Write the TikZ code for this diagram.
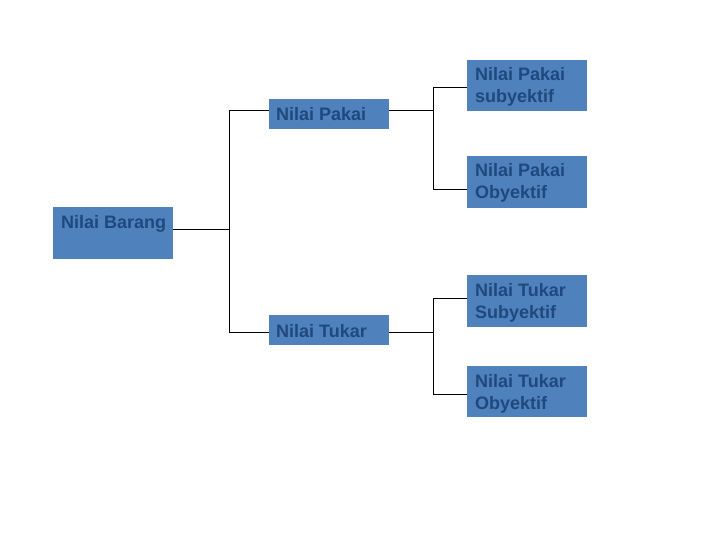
\documentclass[tikz,border=0pt]{standalone}
\usepackage{fontspec}
\setmainfont{Liberation Sans}
\begin{document}
\begin{tikzpicture}[x=1pt,y=-1pt,
  box/.style={draw=none,fill=boxblue,inner sep=0,anchor=north west},
  lbl/.style={inner sep=0,anchor=base west,text=txtblue,font=\fontsize{18}{22}\selectfont\bfseries},
  conn/.style={draw=black,line width=1pt}]
\definecolor{boxblue}{HTML}{4F81BD}
\definecolor{txtblue}{HTML}{1F497D}
\useasboundingbox (0,0) rectangle (720,540);
% boxes
\node[box,minimum width=120pt,minimum height=52pt] (B) at (53,207) {};
\node[box,minimum width=120pt,minimum height=30pt] (P) at (269,99) {};
\node[box,minimum width=120pt,minimum height=30pt] (T) at (269,315) {};
\node[box,minimum width=120pt,minimum height=51pt] (PS) at (467,60) {};
\node[box,minimum width=120pt,minimum height=52pt] (PO) at (467,156) {};
\node[box,minimum width=120pt,minimum height=52pt] (TS) at (467,275) {};
\node[box,minimum width=120pt,minimum height=51pt] (TO) at (467,366) {};
% labels
\node[lbl] (tB) at (61,229) {Nilai Barang};
\node[lbl] (tP) at (276,121) {Nilai Pakai};
\node[lbl] (tT) at (276,337) {Nilai Tukar};
\node[lbl] (tPS) at (475,81) {\vtop{\hbox{Nilai Pakai}\hbox{subyektif}}};
\node[lbl] (tPO) at (475,177) {\vtop{\hbox{Nilai Pakai}\hbox{Obyektif}}};
\node[lbl] (tTS) at (475,296) {\vtop{\hbox{Nilai Tukar}\hbox{Subyektif}}};
\node[lbl] (tTO) at (475,387) {\vtop{\hbox{Nilai Tukar}\hbox{Obyektif}}};
% junction coordinates
\coordinate (j0) at (229,230);
\coordinate (jp) at (229,111);
\coordinate (jt) at (229,332);
\coordinate (kp) at (433,111);
\coordinate (kps) at (433,88);
\coordinate (kpo) at (433,190);
\coordinate (kt) at (433,332);
\coordinate (kts) at (433,298);
\coordinate (kto) at (433,394);
% connectors
\draw[conn] (B.east|-j0) -- (j0);
\draw[conn] (P.west|-jp) -- (jp) -- (jt) -- (T.west|-jt);
\draw[conn] (P.east|-kp) -- (kp);
\draw[conn] (PS.west|-kps) -- (kps) -- (kpo) -- (PO.west|-kpo);
\draw[conn] (T.east|-kt) -- (kt);
\draw[conn] (TS.west|-kts) -- (kts) -- (kto) -- (TO.west|-kto);
\end{tikzpicture}
\end{document}
